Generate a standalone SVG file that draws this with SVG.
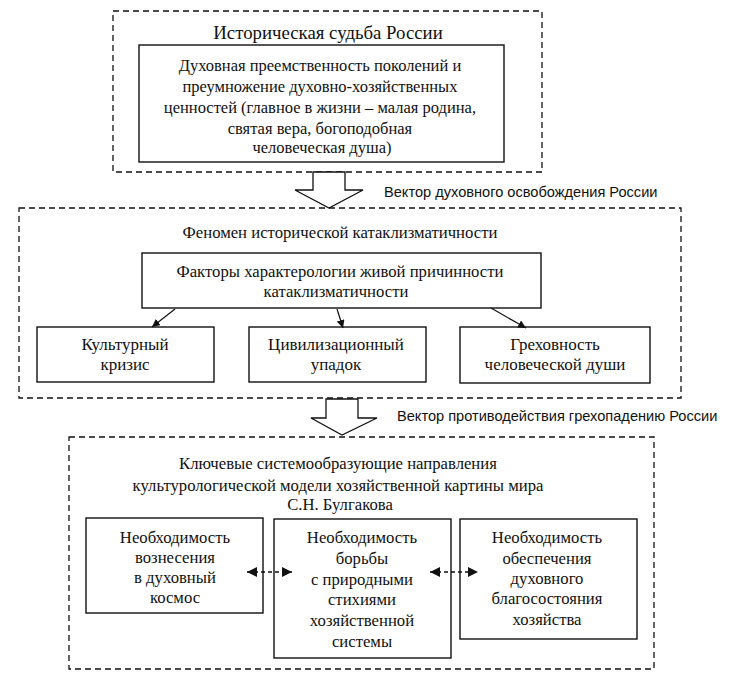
<svg xmlns="http://www.w3.org/2000/svg" width="738" height="687" viewBox="0 0 738 687">
<style>
.dash{fill:none;stroke:#111;stroke-width:1.3;stroke-dasharray:6 4}
.box{fill:#fff;stroke:#111;stroke-width:1.4}
text.t{font-family:'Liberation Serif','Times New Roman',serif;fill:#111;text-anchor:middle;dominant-baseline:central;font-size:16.7px}
text.s{font-family:'Liberation Sans',Arial,sans-serif;fill:#111;font-size:14.6px;dominant-baseline:central}
.barrow{fill:#fff;stroke:#111;stroke-width:1.3;stroke-linejoin:miter}
.con{stroke:#111;stroke-width:1.2;fill:none}
.dcon{stroke:#111;stroke-width:1.6;fill:none;stroke-dasharray:4 3}
</style>
<defs>
<marker id="ah" viewBox="0 0 10 10" refX="10" refY="5" markerWidth="8" markerHeight="8" markerUnits="userSpaceOnUse" orient="auto">
<path d="M0,0 L10,5 L0,10 Z" fill="#111"/>
</marker>
<marker id="ah2" viewBox="0 0 10 10" refX="10" refY="5" markerWidth="10" markerHeight="10" markerUnits="userSpaceOnUse" orient="auto-start-reverse">
<path d="M0,0 L10,5 L0,10 Z" fill="#111"/>
</marker>
</defs>
<rect width="738" height="687" fill="#fff"/>

<g id="section-top">
<rect class="dash" x="113" y="11" width="429" height="161"/>
<text class="t" x="328" y="32" style="font-size:18.8px">Историческая судьба России</text>
</g>
<g id="node-top">
<rect class="box" x="139" y="45" width="365" height="117"/>
<text class="t" style="font-size:16.5px">
<tspan x="322" y="65">Духовная преемственность поколений и</tspan>
<tspan x="322" y="86">преумножение духовно-хозяйственных</tspan>
<tspan x="322" y="107">ценностей (главное в жизни – малая родина,</tspan>
<tspan x="322" y="128">святая вера, богоподобная</tspan>
<tspan x="322" y="147">человеческая душа)</tspan>
</text>
</g>

<g id="vector1">
<polygon class="barrow" points="313,172 313,190 295,190 329,208 363,190 345,190 345,172"/>
<text class="s" x="384" y="192">Вектор духовного освобождения России</text>
</g>

<g id="section-middle">
<rect class="dash" x="19" y="208" width="662" height="190"/>
<text class="t" x="340" y="232">Феномен исторической катаклизматичности</text>
</g>
<g id="node-factors">
<rect class="box" x="142" y="253" width="399" height="55"/>
<text class="t"><tspan x="340" y="271">Факторы характерологии живой причинности</tspan><tspan x="336" y="291">катаклизматичности</tspan></text>
</g>
<g id="node-culture">
<rect class="box" x="37" y="327" width="177" height="55"/>
<text class="t" style="font-size:17px"><tspan x="125" y="344">Культурный</tspan><tspan x="125" y="364">кризис</tspan></text>
</g>
<g id="node-civil">
<rect class="box" x="249" y="327" width="177" height="55"/>
<text class="t" style="font-size:17px"><tspan x="336" y="344">Цивилизационный</tspan><tspan x="336" y="364">упадок</tspan></text>
</g>
<g id="node-sin">
<rect class="box" x="460" y="327" width="190" height="56"/>
<text class="t" style="font-size:17px"><tspan x="555" y="344">Греховность</tspan><tspan x="555" y="364">человеческой души</tspan></text>
</g>

<g id="vector2">
<polygon class="barrow" points="326,399 326,418 311,418 342,435 377,418 358,418 358,399"/>
<text class="s" x="397" y="416">Вектор противодействия грехопадению России</text>
</g>

<g id="section-bottom">
<rect class="dash" x="69" y="437" width="585" height="232"/>
<text class="t"><tspan x="338" y="463">Ключевые системообразующие направления</tspan><tspan x="338" y="485">культурологической модели хозяйственной картины мира</tspan><tspan x="340" y="504">С.Н. Булгакова</tspan></text>
</g>
<g id="node-ascension">
<rect class="box" x="86" y="518" width="177" height="95"/>
<text class="t"><tspan x="175" y="537">Необходимость</tspan><tspan x="175" y="557">вознесения</tspan><tspan x="175" y="577">в духовный</tspan><tspan x="175" y="597">космос</tspan></text>
</g>
<g id="node-struggle">
<rect class="box" x="274" y="519" width="177" height="139"/>
<text class="t"><tspan x="362" y="537">Необходимость</tspan><tspan x="362" y="558">борьбы</tspan><tspan x="362" y="579">с природными</tspan><tspan x="362" y="599">стихиями</tspan><tspan x="362" y="620">хозяйственной</tspan><tspan x="362" y="641">системы</tspan></text>
</g>
<g id="node-welfare">
<rect class="box" x="460" y="519" width="177" height="120"/>
<text class="t"><tspan x="547" y="537">Необходимость</tspan><tspan x="547" y="558">обеспечения</tspan><tspan x="547" y="578">духовного</tspan><tspan x="547" y="598">благосостояния</tspan><tspan x="547" y="619">хозяйства</tspan></text>
</g>

<g id="connectors">
<line class="con" x1="175" y1="309" x2="152" y2="327" marker-end="url(#ah)"/>
<line class="con" x1="337" y1="309" x2="343" y2="328" marker-end="url(#ah)"/>
<line class="con" x1="491" y1="308" x2="526" y2="328" marker-end="url(#ah)"/>
<line class="dcon" x1="247" y1="572" x2="292" y2="572" marker-start="url(#ah2)" marker-end="url(#ah2)"/>
<line class="dcon" x1="430" y1="572" x2="478" y2="572" marker-start="url(#ah2)" marker-end="url(#ah2)"/>
</g>
</svg>
